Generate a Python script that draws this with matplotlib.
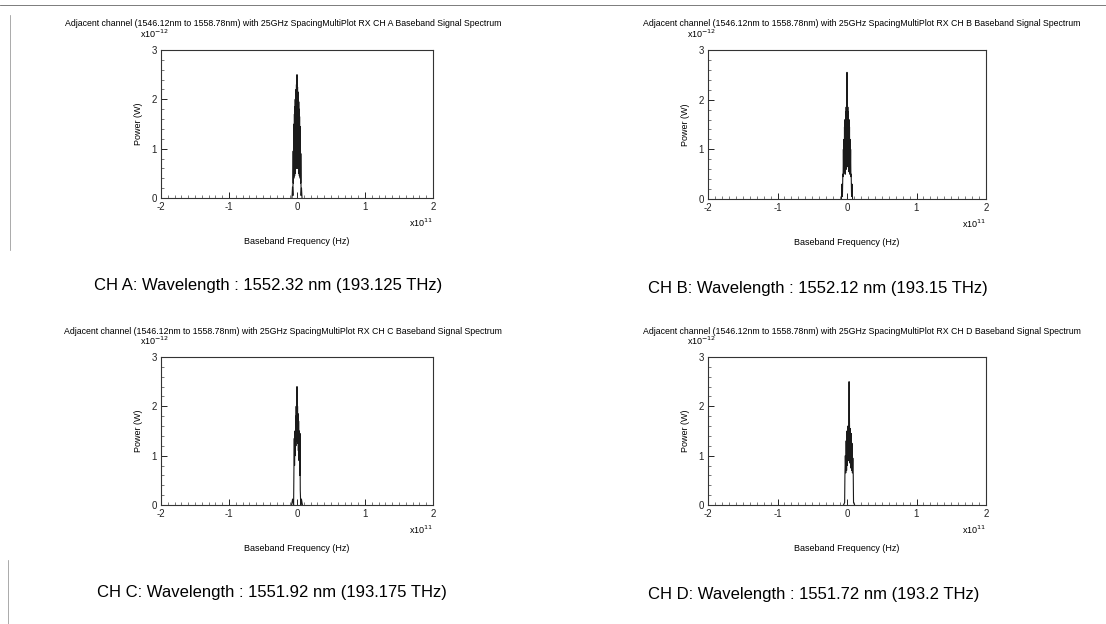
import matplotlib
matplotlib.use("Agg")
import matplotlib.pyplot as plt
from matplotlib.ticker import MultipleLocator

plt.rcParams['font.family'] = ['Liberation Sans', 'DejaVu Sans']
plt.rcParams['axes.unicode_minus'] = False

# baseband spectra: frequency in GHz, power in units of 1e-12 W
f_a = [-7.4, -6.6, -6.0, -5.6, -5.3, -5.0, -4.7, -4.4, -4.1, -3.8, -3.5, -3.2, -2.9, -2.6, -2.3,
       -2.0, -1.7, -1.4, -1.1, -0.8, -0.5, -0.2, 0.0, 0.2, 0.5, 0.8, 1.1, 1.4, 1.7, 2.0,
       2.3, 2.6, 2.9, 3.2, 3.5, 3.8, 4.1, 4.4, 4.7, 5.0, 5.3, 5.6, 6.0, 6.6, 7.4]
p_a = [0.0, 0.22, 0.05, 0.95, 0.3, 1.25, 0.4, 1.5, 0.5, 1.7, 0.45, 1.85, 0.6, 2.0, 0.5,
       2.1, 0.7, 2.2, 0.6, 2.3, 0.8, 2.4, 2.5, 2.35, 0.75, 2.25, 0.6, 2.15, 0.7, 2.05,
       0.5, 1.95, 0.6, 1.8, 0.45, 1.65, 0.5, 1.45, 0.4, 1.2, 0.3, 0.9, 0.05, 0.2, 0.0]

f_b = [-8.0, -7.2, -6.6, -6.0, -5.6, -5.2, -4.8, -4.4, -4.0, -3.6, -3.2, -2.8, -2.4, -2.0, -1.6,
       -1.2, -0.8, -0.4, 0.0, 0.4, 0.8, 1.2, 1.6, 2.0, 2.4, 2.8, 3.2, 3.6, 4.0, 4.4,
       4.8, 5.2, 5.6, 6.0, 6.6, 7.2, 8.0]
p_b = [0.0, 0.3, 0.05, 0.5, 0.45, 1.0, 0.5, 1.2, 0.55, 1.45, 0.6, 1.6, 0.5, 1.75, 0.7,
       1.85, 0.6, 1.9, 2.55, 1.9, 0.65, 1.85, 0.7, 1.75, 0.55, 1.6, 0.6, 1.45, 0.5, 1.2,
       0.55, 1.0, 0.45, 0.5, 0.05, 0.3, 0.0]

f_c = [-8.0, -6.5, -5.0, -4.4, -4.0, -3.6, -3.0, -2.4, -2.0, -1.6, -1.2, -0.8, -0.4, 0.0,
       0.4, 0.8, 1.2, 1.6, 2.0, 2.4, 3.0, 3.6, 4.0, 4.4, 4.8, 5.5, 6.5, 8.0]
p_c = [0.0, 0.12, 0.0, 0.9, 1.35, 0.8, 1.5, 1.0, 1.8, 1.2, 2.0, 1.3, 1.9, 2.4,
       1.4, 2.0, 1.25, 1.85, 1.1, 1.7, 0.9, 1.5, 0.6, 1.45, 0.3, 0.0, 0.12, 0.0]

f_d = [-5.0, -3.4, -3.0, -2.4, -1.8, -1.2, -0.6, 0.0, 0.6, 1.2, 1.8, 2.4, 3.0, 3.6,
       4.2, 4.8, 5.4, 6.0, 6.6, 7.2, 7.8, 8.4, 9.0, 9.4, 11.0]
p_d = [0.0, 0.05, 0.6, 1.0, 0.65, 1.3, 0.7, 1.5, 0.8, 1.6, 0.9, 1.7, 2.5, 1.65,
       0.85, 1.55, 0.75, 1.45, 0.7, 1.25, 0.65, 0.95, 0.6, 0.05, 0.0]

channels = ["A", "B", "C", "D"]
captions = ["CH A: Wavelength : 1552.32 nm (193.125 THz)",
            "CH B: Wavelength : 1552.12 nm (193.15 THz)",
            "CH C: Wavelength : 1551.92 nm (193.175 THz)",
            "CH D: Wavelength : 1551.72 nm (193.2 THz)"]
freqs = [f_a, f_b, f_c, f_d]
powers = [p_a, p_b, p_c, p_d]

W, H = 1106, 624
fig = plt.figure(figsize=(W / 100, H / 100), dpi=100)

def fx(x):
    return x / W

def fy(y):
    return 1 - y / H

# axes boxes in pixels: left, top, right, bottom
boxes = [(161, 50, 433, 198), (708, 50, 986, 199),
         (161, 357, 433, 505), (708, 357, 986, 505)]
title_x = [283, 862, 283, 862]
caption_pos = [(268, 286), (818, 288), (272, 593), (814, 595)]

for i, ch in enumerate(channels):
    l, t, r, b = boxes[i]
    ax = fig.add_axes([fx(l), fy(b), (r - l) / W, (b - t) / H])
    x = [f / 100.0 for f in freqs[i]]  # GHz -> units of 1e11 Hz
    ax.plot(x, powers[i], color='#1a1a1a', lw=0.8)
    ax.set_xlim(-2, 2)
    ax.set_ylim(0, 3)
    ax.xaxis.set_major_locator(MultipleLocator(1))
    ax.xaxis.set_minor_locator(MultipleLocator(0.1))
    ax.yaxis.set_major_locator(MultipleLocator(1))
    ax.yaxis.set_minor_locator(MultipleLocator(0.2))
    ax.tick_params(which='major', direction='in', length=4, width=0.7,
                   labelsize=7, pad=3, colors='#222222')
    ax.tick_params(which='minor', direction='in', length=2, width=0.5, colors='#444444')
    for s in ax.spines.values():
        s.set_linewidth(0.8)
        s.set_color('#333333')
    ax.set_ylabel("Power (W)", fontsize=6.5, labelpad=6)
    ax.set_xlabel("Baseband Frequency (Hz)", fontsize=6.5, labelpad=18)

    fig.text(fx(title_x[i]), fy(t - 26), "Adjacent channel (1546.12nm to 1558.78nm) with 25GHz "
             "SpacingMultiPlot RX CH %s Baseband Signal Spectrum" % ch,
             fontsize=6.3, ha='center', va='center')
    fig.text(fx(l - 21), fy(t - 16), r"x10$^{-12}$", fontsize=6.5, ha='left', va='center')
    fig.text(fx(r), fy(b + 25), r"x10$^{11}$", fontsize=6.5, ha='right', va='center')
    cx, cy = caption_pos[i]
    fig.text(fx(cx), fy(cy), captions[i], fontsize=12, ha='center', va='center')

# scan border remnants
fig.add_artist(plt.Line2D([fx(0), fx(W)], [fy(5), fy(5)], color='#666666', lw=0.6))
fig.add_artist(plt.Line2D([fx(10), fx(10)], [fy(15), fy(250)], color='#888888', lw=0.5))
fig.add_artist(plt.Line2D([fx(8), fx(8)], [fy(560), fy(624)], color='#888888', lw=0.5))

fig.savefig("out.png", dpi=100)
